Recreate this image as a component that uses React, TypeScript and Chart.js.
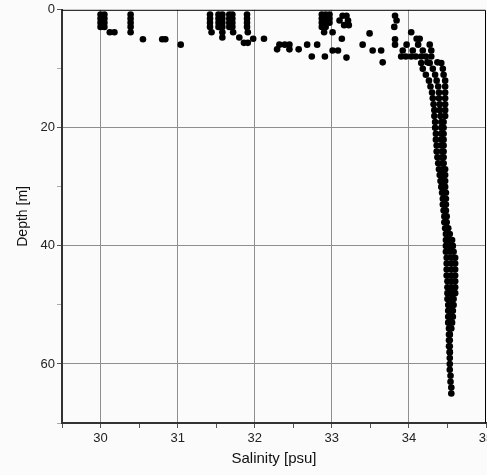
import React, { useEffect, useRef } from 'react';
import { Chart, registerables } from 'chart.js';

Chart.register(...registerables);

// ---- axis settings ----
const salinityMin = 29.5;
const salinityMax = 35;
const depthMin = 0;
const depthMax = 70;
const xTitle = 'Salinity [psu]';
const yTitle = 'Depth [m]';

// ---- near-surface scattered observations ----
const surfaceSalinity = [
  30.0, 30.05, 30.0, 30.05, 30.0, 30.05, 30.0, 30.05, 30.12, 30.18,
  30.39, 30.39, 30.39, 30.39, 30.39, 30.55, 30.8, 30.84, 31.04,
  31.42, 31.42, 31.42, 31.42, 31.44,
  31.53, 31.53, 31.53, 31.53,
  31.58, 31.58, 31.58, 31.58, 31.58, 31.58,
  31.67, 31.67, 31.67, 31.67, 31.71, 31.71, 31.71, 31.71, 31.72,
  31.9, 31.9, 31.9, 31.9, 31.91,
  31.8, 31.86, 31.91, 31.98, 32.12,
  32.32, 32.39, 32.45, 32.29, 32.45, 32.57, 32.68, 32.81, 32.74, 32.91,
  32.87, 32.87, 32.87, 32.87, 32.92, 32.92, 32.92, 32.92, 32.97, 32.97, 32.97, 32.9, 33.01,
  33.14, 33.19, 33.1, 33.21, 33.16, 33.22, 33.13, 33.01, 33.08, 33.19,
  33.49, 33.4, 33.53, 33.64, 33.66,
  33.82, 33.84, 33.81, 33.82, 33.82,
  34.03, 34.1, 34.14,
  33.97, 34.12, 34.27,
  33.92, 34.05, 34.18, 34.29,
  33.9, 33.96, 34.03, 34.09, 34.16, 34.22, 34.29,
  34.24, 34.37,
];
const surfaceDepth = [
  0.8, 0.8, 1.5, 1.5, 2.2, 2.2, 2.9, 2.9, 3.8, 3.8,
  0.8, 1.5, 2.2, 2.9, 3.8, 5.0, 5.0, 5.0, 5.9,
  0.8, 1.5, 2.2, 2.9, 3.8,
  0.8, 1.5, 2.2, 2.9,
  0.8, 1.5, 2.2, 2.9, 3.8, 4.7,
  0.8, 1.5, 2.2, 2.9, 0.8, 1.5, 2.2, 2.9, 3.8,
  0.8, 1.5, 2.2, 2.9, 3.8,
  4.7, 5.6, 5.6, 4.9, 4.9,
  5.9, 5.9, 5.9, 6.7, 6.7, 6.7, 5.9, 5.9, 7.9, 7.9,
  0.8, 1.5, 2.2, 2.9, 0.8, 1.5, 2.2, 2.9, 0.8, 1.5, 2.2, 3.8, 3.8,
  1.0, 1.0, 1.8, 1.8, 2.6, 2.6, 4.9, 6.9, 6.9, 8.1,
  4.0, 5.9, 6.9, 6.9, 8.9,
  1.0, 1.8, 2.9, 5.0, 5.9,
  3.8, 4.9, 4.9,
  5.9, 5.9, 5.9,
  6.9, 6.9, 6.9, 6.9,
  7.9, 7.9, 7.9, 7.9, 7.9, 7.9, 7.9,
  8.9, 8.9,
];

// ---- profile cast A (deepest) ----
const castADepth = [
  9, 10, 11, 12, 13, 14, 15, 16, 17, 18, 19, 20, 21, 22, 23, 24, 25, 26, 27, 28,
  29, 30, 31, 32, 33, 34, 35, 36, 37, 38, 39, 40, 41, 42, 43, 44, 45, 46, 47, 48,
  49, 50, 51, 52, 53, 54, 55, 56, 57, 58, 59, 60, 61, 62, 63, 64, 65,
];
const castASalinity = [
  34.16, 34.18, 34.22, 34.26, 34.28, 34.3, 34.31, 34.32, 34.33, 34.33,
  34.34, 34.34, 34.35, 34.35, 34.36, 34.36, 34.37, 34.38, 34.39, 34.4,
  34.41, 34.42, 34.43, 34.44, 34.44, 34.45, 34.46, 34.46, 34.47, 34.48,
  34.48, 34.48, 34.48, 34.49, 34.49, 34.49, 34.49, 34.5, 34.5, 34.5,
  34.5, 34.51, 34.51, 34.51, 34.51, 34.52, 34.52, 34.52, 34.52, 34.53,
  34.53, 34.53, 34.53, 34.54, 34.54, 34.55, 34.55,
];

// ---- profile cast B ----
const castBDepth = [
  9, 10, 11, 12, 13, 14, 15, 16, 17, 18, 19, 20, 21, 22, 23, 24, 25, 26, 27, 28,
  29, 30, 31, 32, 33, 34, 35, 36, 37, 38, 39, 40, 41, 42, 43, 44, 45, 46, 47, 48,
  49, 50, 51, 52, 53, 54, 55, 56, 57, 58,
];
const castBSalinity = [
  34.27, 34.31, 34.34, 34.36, 34.38, 34.39, 34.39, 34.4, 34.4, 34.41,
  34.42, 34.42, 34.42, 34.42, 34.42, 34.43, 34.43, 34.43, 34.44, 34.44,
  34.44, 34.45, 34.45, 34.45, 34.47, 34.47, 34.47, 34.48, 34.49, 34.51,
  34.52, 34.53, 34.53, 34.55, 34.55, 34.55, 34.55, 34.55, 34.55, 34.55,
  34.55, 34.55, 34.53, 34.53, 34.53, 34.53, 34.53, 34.53, 34.53, 34.53,
];

// ---- profile cast C ----
const castCDepth = [
  9, 10, 11, 12, 13, 14, 15, 16, 17, 18, 19, 20, 21, 22, 23, 24, 25, 26, 27, 28,
  29, 30, 31, 32, 33, 34, 35, 36, 37, 38, 39, 40, 41, 42, 43, 44, 45, 46, 47, 48,
  49, 50, 51, 52, 53, 54, 55,
];
const castCSalinity = [
  34.42, 34.44, 34.45, 34.47, 34.47, 34.47, 34.47, 34.47, 34.47, 34.47,
  34.45, 34.45, 34.45, 34.45, 34.45, 34.45, 34.45, 34.45, 34.47, 34.47,
  34.47, 34.47, 34.48, 34.48, 34.48, 34.48, 34.49, 34.49, 34.51, 34.53,
  34.56, 34.57, 34.58, 34.6, 34.6, 34.6, 34.6, 34.6, 34.6, 34.6,
  34.58, 34.58, 34.57, 34.57, 34.56, 34.55, 34.53,
];

const FONT = "'Liberation Sans', Arial, sans-serif";

function zip(xs: number[], ys: number[]) {
  return xs.map((x, i) => ({ x, y: ys[i] }));
}

const framePlugin = {
  id: 'frame',
  afterDraw(chart: any) {
    const { ctx, chartArea } = chart;
    const { left, top, right, bottom } = chartArea;
    ctx.save();
    ctx.strokeStyle = '#000';
    ctx.lineWidth = 1;
    ctx.beginPath();
    ctx.moveTo(left, top + 0.5);
    ctx.lineTo(right - 0.5, top + 0.5);
    ctx.lineTo(right - 0.5, bottom);
    ctx.stroke();
    ctx.restore();
  },
};

export default function App() {
  const ref = useRef<HTMLCanvasElement>(null);

  useEffect(() => {
    const points = [
      ...zip(surfaceSalinity, surfaceDepth),
      ...zip(castASalinity, castADepth),
      ...zip(castBSalinity, castBDepth),
      ...zip(castCSalinity, castCDepth),
    ];
    const chart = new Chart(ref.current as HTMLCanvasElement, {
      type: 'scatter',
      data: {
        datasets: [
          {
            data: points,
            backgroundColor: '#000',
            borderColor: '#000',
            borderWidth: 0,
            pointRadius: 3.3,
            pointHoverRadius: 3.3,
          },
        ],
      },
      options: {
        animation: false,
        responsive: false,
        devicePixelRatio: 1,
        events: [],
        layout: { padding: { left: 0, right: 15, top: 9, bottom: 0 } },
        plugins: {
          legend: { display: false },
          tooltip: { enabled: false },
        },
        scales: {
          x: {
            type: 'linear',
            min: salinityMin,
            max: salinityMax,
            afterFit: (s: any) => {
              s.height = 52;
            },
            ticks: {
              stepSize: 0.5,
              autoSkip: false,
              maxRotation: 0,
              padding: 3,
              color: '#222',
              font: { family: FONT, size: 13 },
              callback: (v: any) => (Number.isInteger(v) ? String(v) : ''),
            },
            grid: {
              color: (c: any) =>
                Number.isInteger(c.tick?.value) && c.tick.value < salinityMax ? '#8f8f8f' : 'rgba(0,0,0,0)',
              tickColor: '#555',
              tickLength: 5,
              lineWidth: 1,
            },
            border: { display: true, color: '#333', width: 2 },
            title: {
              display: true,
              text: xTitle,
              color: '#111',
              font: { family: FONT, size: 15 },
              padding: { top: 0, bottom: 7 },
            },
          },
          y: {
            type: 'linear',
            reverse: true,
            min: depthMin,
            max: depthMax,
            afterFit: (s: any) => {
              s.width = 62;
            },
            ticks: {
              stepSize: 10,
              autoSkip: false,
              padding: 2,
              color: '#222',
              font: { family: FONT, size: 13 },
              callback: (v: any) => (v % 20 === 0 ? String(v) : ''),
            },
            grid: {
              color: (c: any) => {
                const v = c.tick?.value;
                return v > depthMin && v < depthMax && v % 20 === 0 ? '#8f8f8f' : 'rgba(0,0,0,0)';
              },
              tickColor: (c: any) => (c.tick?.value % 20 === 0 ? '#555' : '#aaa'),
              tickLength: 5,
              lineWidth: 1,
            },
            border: { display: true, color: '#333', width: 2 },
            title: {
              display: true,
              text: yTitle,
              color: '#111',
              font: { family: FONT, size: 14 },
              padding: { top: 15, bottom: 0 },
            },
          },
        },
      },
      plugins: [framePlugin],
    });
    return () => chart.destroy();
  }, []);

  return (
    <div
      style={{
        position: 'absolute',
        left: 0,
        top: 0,
        width: 487,
        height: 475,
        overflow: 'hidden',
        background: '#fbfbfb',
      }}
    >
      <canvas ref={ref} width={501} height={475} style={{ display: 'block', width: 501, height: 475 }} />
    </div>
  );
}
